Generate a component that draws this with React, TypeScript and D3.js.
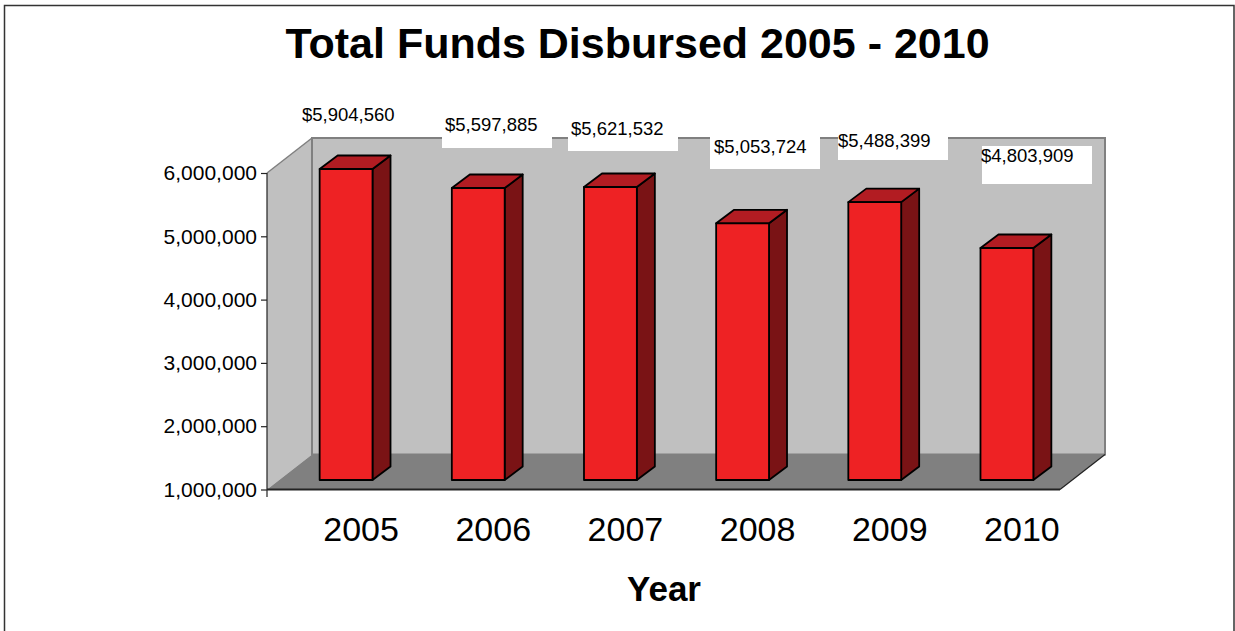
import { useEffect, useRef } from 'react';
import * as d3 from 'd3';

const years = ['2005', '2006', '2007', '2008', '2009', '2010'];
// bar heights, they do not quite agree with the printed labels
const barValues = [5913000, 5613000, 5629000, 5055000, 5390000, 4665000];
const valueLabels = ['$5,904,560', '$5,597,885', '$5,621,532', '$5,053,724', '$5,488,399', '$4,803,909'];
const yTicks = [1000000, 2000000, 3000000, 4000000, 5000000, 6000000];

// the labels and their white boxes were placed by hand in the original
const labelLeft = [302, 445, 571, 714, 838, 981];
const labelBaseline = [121, 131, 135, 153, 147, 162];
const boxLeft = [299, 442, 568, 710, 838, 982];
const boxBottom = [134, 148, 151, 169, 160, 184];

const font = '"Liberation Sans", Arial, sans-serif';

const App = () => {
  const containerRef = useRef<SVGSVGElement>(null!);

  useEffect(() => {
    const width = 1235;
    const height = 631;
    const left = 267;
    const right = 1060;
    const top = 173;
    const bottom = 489.5;
    // offsets of the fake 3d
    const wallDx = 45;
    const wallDy = -35;
    const barShift = 13;
    const barLift = -9.5;
    const barDx = 18;
    const barDy = -13.5;

    const svg = d3.select(containerRef.current).attr('width', width).attr('height', height);

    const xScale = d3.scaleBand<string>().domain(years).range([left, right]).paddingInner(0.6).paddingOuter(0.3);
    const xLabel = d3.scaleBand<string>().domain(years).range([left, right]);
    const yScale = d3.scaleLinear().domain([1000000, 6000000]).range([bottom, top]);

    svg
      .append('rect')
      .attr('x', 4.5)
      .attr('y', 5.5)
      .attr('width', 1229.5)
      .attr('height', 640)
      .attr('fill', 'white')
      .attr('stroke', '#333')
      .attr('stroke-width', 1.5);

    svg
      .append('text')
      .attr('x', 637.5)
      .attr('y', 58)
      .attr('text-anchor', 'middle')
      .attr('font-family', font)
      .attr('font-weight', 'bold')
      .attr('font-size', 43)
      .text('Total Funds Disbursed 2005 - 2010');

    const poly = (pts: [number, number][]) => d3.line()(pts) + 'Z';

    // left wall, back wall, floor
    svg
      .append('path')
      .attr('d', poly([[left, top], [left + wallDx, top + wallDy], [left + wallDx, bottom + wallDy], [left, bottom]]))
      .attr('fill', '#c0c0c0');
    svg
      .append('path')
      .attr('d', poly([[left + wallDx, top + wallDy], [right + wallDx, top + wallDy], [right + wallDx, bottom + wallDy], [left + wallDx, bottom + wallDy]]))
      .attr('fill', '#c0c0c0')
      .attr('stroke', '#808080')
      .attr('stroke-width', 2);
    svg
      .append('path')
      .attr('d', d3.line()([[left, top], [left + wallDx, top + wallDy]]))
      .attr('stroke', '#808080')
      .attr('stroke-width', 1.5);
    svg
      .append('path')
      .attr('d', poly([[left, bottom], [left + wallDx, bottom + wallDy], [right + wallDx, bottom + wallDy], [right, bottom]]))
      .attr('fill', '#808080');
    svg
      .append('path')
      .attr('d', d3.line()([[right, bottom], [right + wallDx, bottom + wallDy]]))
      .attr('stroke', '#222')
      .attr('stroke-width', 1.2);
    svg
      .append('line')
      .attr('x1', left)
      .attr('x2', right)
      .attr('y1', bottom)
      .attr('y2', bottom)
      .attr('stroke', '#222')
      .attr('stroke-width', 1.8);

    // white label boxes go over the wall, under the text
    svg
      .selectAll('rect.box')
      .data(boxLeft)
      .enter()
      .append('rect')
      .attr('class', 'box')
      .attr('x', d => d)
      .attr('y', (_, i) => boxBottom[i] - 38)
      .attr('width', 110)
      .attr('height', 38)
      .attr('fill', 'white');

    // bars
    const bars = svg
      .selectAll('g.bar')
      .data(barValues)
      .enter()
      .append('g')
      .attr('class', 'bar')
      .attr('stroke', 'black')
      .attr('stroke-width', 1.8)
      .attr('stroke-linejoin', 'round');

    const bx = (i: number) => (xScale(years[i]) as number) + barShift;
    const bw = xScale.bandwidth();
    const by = (d: number) => yScale(d) + barLift;
    const b0 = bottom + barLift;

    bars
      .append('path')
      .attr('d', (d, i) => poly([[bx(i) + bw, by(d)], [bx(i) + bw + barDx, by(d) + barDy], [bx(i) + bw + barDx, b0 + barDy], [bx(i) + bw, b0]]))
      .attr('fill', '#7a1315');
    bars
      .append('path')
      .attr('d', (d, i) => poly([[bx(i), by(d)], [bx(i) + barDx, by(d) + barDy], [bx(i) + bw + barDx, by(d) + barDy], [bx(i) + bw, by(d)]]))
      .attr('fill', '#b21c22');
    bars
      .append('rect')
      .attr('x', (_, i) => bx(i))
      .attr('y', d => by(d))
      .attr('width', bw)
      .attr('height', d => b0 - by(d))
      .attr('fill', '#ee2224');

    // value labels
    svg
      .selectAll('text.value')
      .data(valueLabels)
      .enter()
      .append('text')
      .attr('class', 'value')
      .attr('x', (_, i) => labelLeft[i])
      .attr('y', (_, i) => labelBaseline[i])
      .attr('font-family', font)
      .attr('font-size', 18.5)
      .text(d => d);

    // y axis
    const axis = svg
      .append('g')
      .attr('transform', `translate(${left},0)`)
      .call(d3.axisLeft(yScale).tickValues(yTicks).tickSize(6).tickFormat(d => d3.format(',')(d as number)));
    axis.select('.domain').remove();
    axis.selectAll('line').attr('stroke', '#222').attr('stroke-width', 1.2);
    axis
      .selectAll('text')
      .attr('font-family', font)
      .attr('font-size', 21)
      .attr('fill', 'black')
      .attr('x', -10);
    axis
      .append('line')
      .attr('y1', top)
      .attr('y2', 497)
      .attr('stroke', '#222')
      .attr('stroke-width', 1.2);

    // x labels
    svg
      .selectAll('text.year')
      .data(years)
      .enter()
      .append('text')
      .attr('class', 'year')
      .attr('x', d => (xLabel(d) as number) + xLabel.bandwidth() / 2 + 28)
      .attr('y', 541)
      .attr('text-anchor', 'middle')
      .attr('font-family', font)
      .attr('font-size', 34)
      .text(d => d);

    svg
      .append('text')
      .attr('x', 664)
      .attr('y', 601)
      .attr('text-anchor', 'middle')
      .attr('font-family', font)
      .attr('font-weight', 'bold')
      .attr('font-size', 35)
      .text('Year');

    return () => {
      containerRef.current.innerHTML = '';
    };
  }, []);

  return <svg ref={containerRef} style={{ position: 'absolute', left: 0, top: 0, display: 'block' }}></svg>;
};

export default App;
